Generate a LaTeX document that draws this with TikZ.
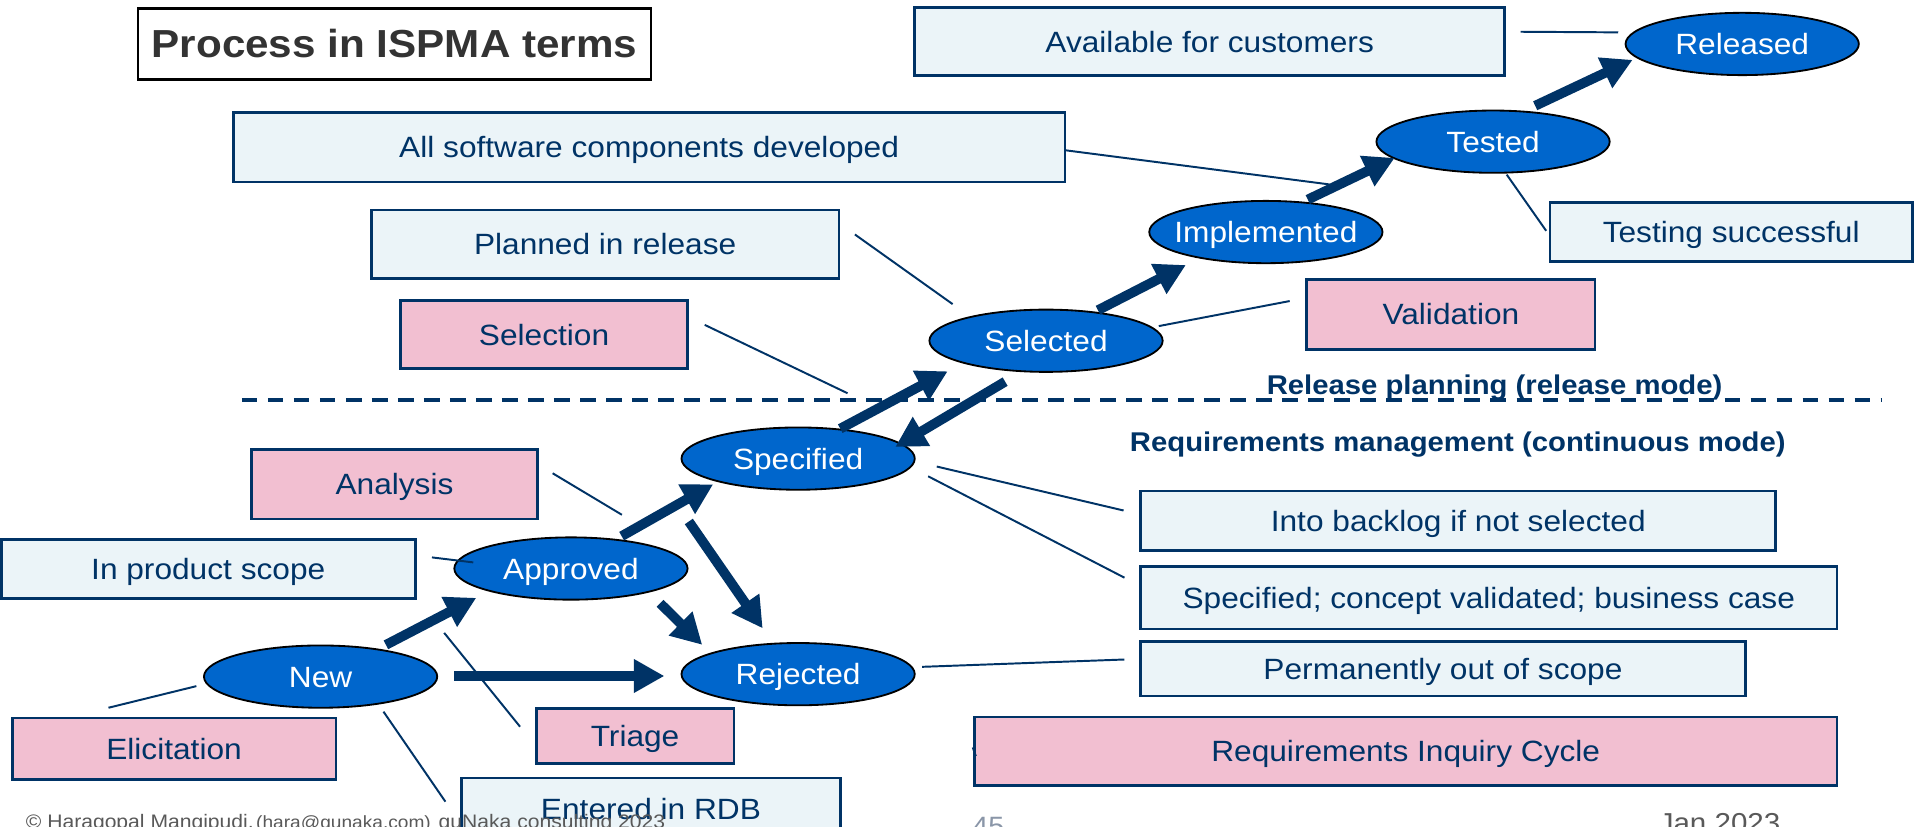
\documentclass[tikz,border=0pt]{standalone}
\usepackage{fontspec}
\setmainfont{Liberation Sans}[FakeStretch=1.08]
\usetikzlibrary{arrows.meta,shapes.geometric}
\definecolor{navy}{RGB}{0,51,102}
\definecolor{boxblue}{RGB}{235,244,248}
\definecolor{boxpink}{RGB}{242,191,209}
\definecolor{stateblue}{RGB}{0,102,204}
\definecolor{titlegray}{RGB}{51,51,51}
\definecolor{footgray}{RGB}{89,89,89}
\definecolor{pagegray}{RGB}{138,150,168}

\tikzset{
  txt/.style={font=\fontsize{24}{28}\selectfont, text height=17.2pt, text depth=0pt, inner sep=0pt},
  infobox/.style={txt, rectangle, draw=navy, line width=2.2pt, fill=boxblue, text=navy},
  actbox/.style={infobox, fill=boxpink},
  stat/.style={ellipse, draw=black, line width=1.5pt, fill=stateblue,
    minimum width=191pt, minimum height=51pt, inner sep=0pt},
  stlabel/.style={txt, text=white},
  flow/.style={draw=navy, line width=8pt, -{Triangle[length=25pt,width=26pt]}},
  link/.style={draw=navy, line width=1.6pt},
  modetext/.style={font=\fontsize{22.2}{26}\selectfont\bfseries, text=navy,
    inner sep=0pt, anchor=base west},
  foot/.style={inner sep=0pt, anchor=base west, text=footgray},
}

\begin{document}
\begin{tikzpicture}[x=1pt,y=-1pt]
\useasboundingbox (0,0) rectangle (1568,677);
\clip (0,0) rectangle (1568,677);
\fill[white] (0,0) rectangle (1568,677);

% heading
\node[draw=black, line width=2pt, minimum width=420pt, minimum height=58pt, inner sep=0pt,
  font=\fontsize{32}{36}\selectfont\bfseries, text=titlegray, text height=22.9pt, text depth=0pt]
  (title) at (323,36) {Process in ISPMA terms};

% mode separator
\coordinate (dashL) at (198,327.5);
\coordinate (dashR) at (1541,327.5);
\draw[navy, line width=3.4pt, dash pattern=on 12.8pt off 8.5pt] (dashL) -- (dashR);
\node[modetext] (relmode) at (1037,323) {Release planning (release mode)};
\node[modetext] (rmmode) at (925,370) {Requirements management (continuous mode)};

% condition boxes
\node[infobox, minimum width=483pt, minimum height=56pt] (avail) at (990.5,34) {Available for customers};
\node[infobox, minimum width=681pt, minimum height=57pt] (allsw) at (531.5,120.5) {All software components developed};
\node[infobox, minimum width=383pt, minimum height=56pt] (planned) at (495.5,200) {Planned in release};
\node[infobox, minimum width=297pt, minimum height=48pt] (testing) at (1417.5,190) {Testing successful};
\node[infobox, minimum width=339pt, minimum height=48pt] (inscope) at (170.5,466) {In product scope};
\node[infobox, minimum width=520pt, minimum height=49pt] (backlog) at (1194,426.5) {Into backlog if not selected};
\node[infobox, minimum width=570pt, minimum height=51pt] (specbox) at (1219,489.5) {Specified; concept validated; business case};
\node[infobox, minimum width=495pt, minimum height=45pt] (perm) at (1181.5,547.5) {Permanently out of scope};
\node[infobox, minimum width=310pt, minimum height=50pt] (rdb) at (533,662) {Entered in RDB};

% activity boxes
\node[actbox, minimum width=235pt, minimum height=56pt] (selection) at (445.5,274) {Selection};
\node[actbox, minimum width=236pt, minimum height=57pt] (validation) at (1188,257.5) {Validation};
\node[actbox, minimum width=234pt, minimum height=57pt] (analysis) at (323,396.5) {Analysis};
\node[actbox, minimum width=265pt, minimum height=50pt] (elicit) at (142.5,613) {Elicitation};
\node[actbox, minimum width=162pt, minimum height=45pt] (triage) at (520,602.5) {Triage};
\node[actbox, minimum width=706pt, minimum height=56pt] (ric) at (1151,615) {Requirements Inquiry Cycle};

% states
\node[stat] (new) at (262.5,554) {};
\node[stat] (appr) at (467.5,465.5) {};
\node[stat] (rej) at (653.5,552) {};
\node[stat] (spec) at (653.5,375.5) {};
\node[stat] (sel) at (856.5,279) {};
\node[stat] (impl) at (1036.5,190) {};
\node[stat] (tested) at (1222.5,116) {};
\node[stat] (rel) at (1426.5,36) {};
\node[stlabel] (newlbl) at (new) {New};
\node[stlabel] (apprlbl) at (appr) {Approved};
\node[stlabel] (rejlbl) at (rej) {Rejected};
\node[stlabel] (speclbl) at (spec) {Specified};
\node[stlabel] (sellbl) at (sel) {Selected};
\node[stlabel] (impllbl) at (impl) {Implemented};
\node[stlabel] (testedlbl) at (tested) {Tested};
\node[stlabel] (rellbl) at (rel) {Released};

% thin annotation links
\draw[link] ([shift={(254.5,-8)}]avail.center) -- ([shift={(-101.5,-9.5)}]rel.center);
\draw[link] ([shift={(340.5,2.5)}]allsw.center) -- ([shift={(52,-39)}]impl.center);
\draw[link] ([shift={(204.5,-8)}]planned.center) -- ([shift={(-76.5,-30)}]sel.center);
\draw[link] ([shift={(131.5,-8)}]selection.center) -- ([shift={(40.5,-53.5)}]spec.center);
\draw[link] ([shift={(92.3,-12)}]sel.center) -- ([shift={(-132,-11)}]validation.center);
\draw[link] ([shift={(11.2,27)}]tested.center) -- ([shift={(-151.5,-1)}]testing.center);
\draw[link] ([shift={(129.5,-9)}]analysis.center) -- ([shift={(41.7,-44)}]appr.center);
\draw[link] ([shift={(183.2,-9.6)}]inscope.center) -- ([shift={(-80,-5)}]appr.center);
\draw[link] ([shift={(113.5,6.5)}]spec.center) -- ([shift={(-274,-8.5)}]backlog.center);
\draw[link] ([shift={(106.5,14.5)}]spec.center) -- ([shift={(-298.3,-16.5)}]specbox.center);
\draw[link] ([shift={(101.5,-6)}]rej.center) -- ([shift={(-260.8,-7.5)}]perm.center);
\draw[link] ([shift={(-101.7,7.8)}]new.center) -- ([shift={(-53.7,-33.5)}]elicit.center);
\draw[link] ([shift={(-103.8,52.7)}]appr.center) -- ([shift={(-94.2,-7.5)}]triage.center);
\draw[link] ([shift={(51.5,28.7)}]new.center) -- ([shift={(-168.3,-5.6)}]rdb.center);
\draw[link] ([shift={(-354.5,-3)}]ric.center) -- ([shift={(-352,4)}]ric.center);

% state transitions
\draw[flow] ([shift={(53.5,-26)}]new.center) -- ([shift={(-77.5,24)}]appr.center);
\draw[flow] ([shift={(109.5,-0.5)}]new.center) -- ([shift={(-109.5,1.5)}]rej.center);
\draw[flow] ([shift={(73,28.5)}]appr.center) -- ([shift={(-78.5,-24)}]rej.center);
\draw[flow] ([shift={(41.5,-26.5)}]appr.center) -- ([shift={(-69.5,21)}]spec.center);
\draw[flow] ([shift={(-89.5,51.5)}]spec.center) -- ([shift={(-29,-37.5)}]rej.center);
\draw[flow] ([shift={(34.5,-24.5)}]spec.center) -- ([shift={(-80.5,25)}]sel.center);
\draw[flow] ([shift={(-33.5,33.5)}]sel.center) -- ([shift={(79.5,-9.5)}]spec.center);
\draw[flow] ([shift={(42.5,-25)}]sel.center) -- ([shift={(-65.5,27)}]impl.center);
\draw[flow] ([shift={(34.3,-26.6)}]impl.center) -- ([shift={(-80.5,13.3)}]tested.center);
\draw[flow] ([shift={(34.5,-29.4)}]tested.center) -- ([shift={(-89.7,13)}]rel.center);

% footer
\node[foot, font=\fontsize{16}{18}\selectfont] (copy) at (21,678.5) {© Haragopal Mangipudi,};
\node[foot, font=\fontsize{14.5}{16}\selectfont] (mail) at (209.6,678.5) {(hara@gunaka.com)};
\node[foot, font=\fontsize{16}{18}\selectfont] (firm) at (359,678.5) {guNaka consulting 2023};
\node[foot, text=pagegray, font=\fontsize{21.7}{24}\selectfont] (pagenum) at (796,684) {45};
\node[foot, font=\fontsize{22.4}{25}\selectfont] (date) at (1358,682) {Jan 2023};
\end{tikzpicture}
\end{document}
